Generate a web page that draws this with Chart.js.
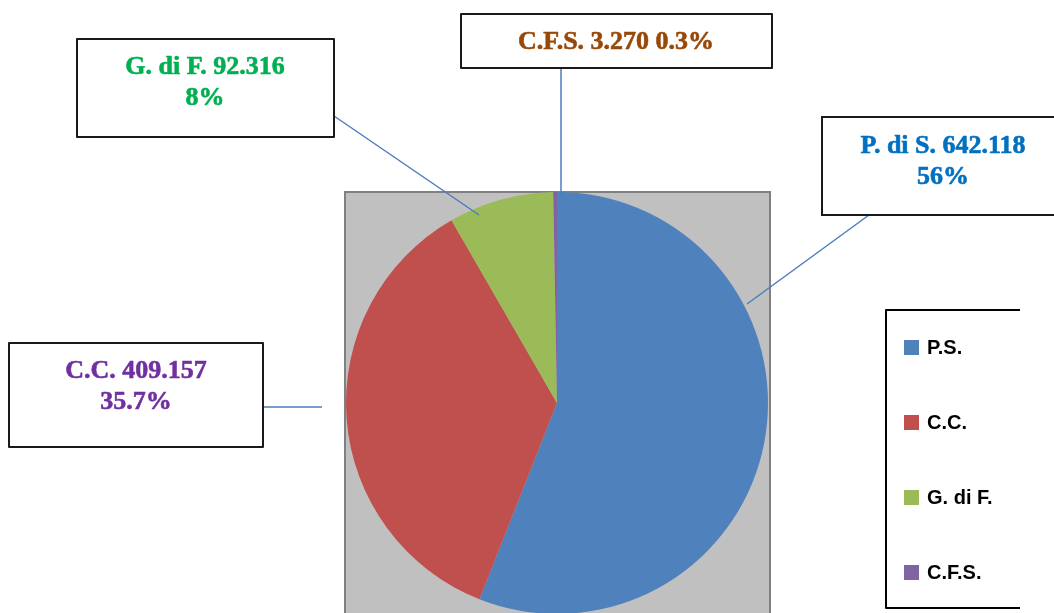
<!DOCTYPE html>
<html>
<head>
<meta charset="utf-8">
<script src="https://cdn.jsdelivr.net/npm/chart.js@4.4.0/dist/chart.umd.min.js"></script>
<style>
  html, body { margin: 0; padding: 0; background: #fff; overflow: hidden; }
  #wrap { position: relative; width: 1054px; height: 613px; overflow: hidden; }
  canvas { display: block; }
</style>
</head>
<body>
<div id="wrap"><canvas id="pie" width="1054" height="620"></canvas></div>
<script>
// chart data
const legendLabels = ['P.S.', 'C.C.', 'G. di F.', 'C.F.S.'];
const calloutNames = ['P. di S.', 'C.C.', 'G. di F.', 'C.F.S.'];
const values = [642.118, 409.157, 92.316, 3.270];
const valueText = ['642.118', '409.157', '92.316', '3.270'];
const percentText = ['56%', '35.7%', '8%', '0.3%'];
const sliceColors = ['#4F81BD', '#C0504D', '#9BBB59', '#8064A2'];
const textColors = ['#0070C0', '#7030A0', '#00B050', '#984806'];

// callout boxes: [left, top, right, bottom], text centre x, baselines, leader line
const callouts = [
  { box: [822, 117, 1060, 215], cx: 943, lines: [153, 184], leader: [869, 215, 747, 304], oneLine: false },
  { box: [9, 343, 263, 447], cx: 136, lines: [378, 409], leader: [263, 407, 322, 407], oneLine: false },
  { box: [77, 39, 334, 137], cx: 205, lines: [74, 105], leader: [334, 116, 479, 215], oneLine: false },
  { box: [461, 14, 772, 68], cx: 616, lines: [49], leader: [561, 68, 561, 195], oneLine: true }
];

const backdrop = {
  id: 'backdrop',
  beforeDatasetsDraw(chart) {
    const ctx = chart.ctx;
    ctx.save();
    ctx.fillStyle = '#C0C0C0';
    ctx.fillRect(345, 192, 425, 430);
    ctx.strokeStyle = '#808080';
    ctx.lineWidth = 2;
    ctx.strokeRect(345, 192, 425, 430);
    ctx.restore();
  }
};

const labelsPlugin = {
  id: 'callouts',
  afterDatasetsDraw(chart) {
    const ctx = chart.ctx;
    ctx.save();
    // leader lines
    ctx.strokeStyle = '#4A7EBB';
    ctx.lineWidth = 1.5;
    callouts.forEach(c => {
      ctx.beginPath();
      ctx.moveTo(c.leader[0], c.leader[1]);
      ctx.lineTo(c.leader[2], c.leader[3]);
      ctx.stroke();
    });
    // boxes and text
    callouts.forEach((c, i) => {
      const [l, t, r, b] = c.box;
      ctx.fillStyle = '#fff';
      ctx.fillRect(l, t, r - l, b - t);
      ctx.strokeStyle = '#1a1a1a';
      ctx.lineWidth = 2;
      ctx.strokeRect(l, t, r - l, b - t);
      ctx.fillStyle = textColors[i];
      ctx.strokeStyle = textColors[i];
      ctx.lineWidth = 0.6;
      ctx.lineJoin = 'round';
      ctx.font = 'bold 26px "Liberation Serif", "Times New Roman", serif';
      ctx.textAlign = 'center';
      ctx.textBaseline = 'alphabetic';
      const rows = c.oneLine
        ? [calloutNames[i] + ' ' + valueText[i] + ' ' + percentText[i]]
        : [calloutNames[i] + ' ' + valueText[i], percentText[i]];
      rows.forEach((txt, k) => {
        ctx.fillText(txt, c.cx, c.lines[k]);
        ctx.strokeText(txt, c.cx, c.lines[k]);
      });
    });

    // legend
    ctx.strokeStyle = '#000';
    ctx.lineWidth = 2;
    ctx.beginPath();
    ctx.moveTo(1020, 310);
    ctx.lineTo(886, 310);
    ctx.lineTo(886, 608);
    ctx.lineTo(1020, 608);
    ctx.stroke();
    ctx.font = 'bold 20px "Liberation Sans", Arial, sans-serif';
    ctx.textAlign = 'left';
    ctx.textBaseline = 'middle';
    legendLabels.forEach((lab, i) => {
      const y = 347 + i * 75;
      ctx.fillStyle = sliceColors[i];
      ctx.fillRect(904, y - 7, 15, 15);
      ctx.fillStyle = '#000';
      ctx.fillText(lab, 927, y + 1);
    });
    ctx.restore();
  }
};

new Chart(document.getElementById('pie'), {
  type: 'pie',
  data: {
    labels: legendLabels,
    datasets: [{
      data: values,
      backgroundColor: sliceColors,
      borderWidth: 0
    }]
  },
  options: {
    responsive: false,
    animation: false,
    devicePixelRatio: 1,
    layout: { padding: { left: 346, right: 286, top: 192, bottom: 6 } },
    plugins: {
      legend: { display: false },
      tooltip: { enabled: false }
    }
  },
  plugins: [backdrop, labelsPlugin]
});
</script>
</body>
</html>
